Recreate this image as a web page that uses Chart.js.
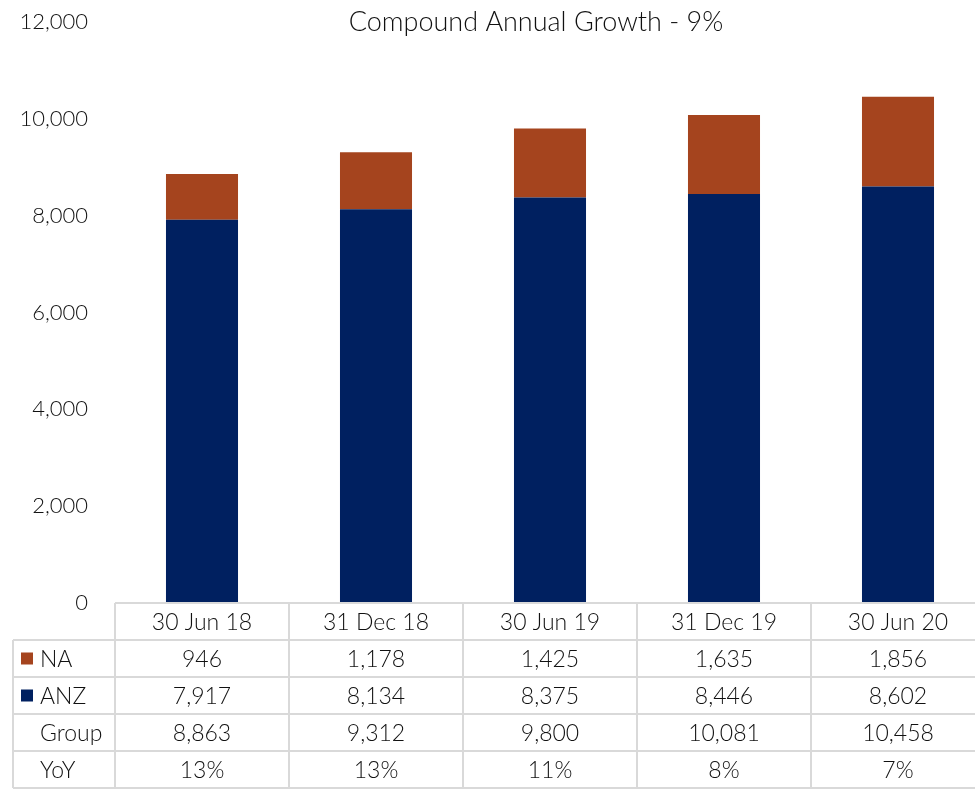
<!DOCTYPE html>
<html>
<head>
<meta charset="utf-8">
<script src="https://cdn.jsdelivr.net/npm/chart.js@4.4.1/dist/chart.umd.min.js"></script>
<style>
  html, body { margin: 0; padding: 0; overflow: hidden; background: #ffffff; }
  #wrap { width: 985px; height: 789px; }
</style>
</head>
<body>
<div id="wrap"><canvas id="c" width="985" height="789"></canvas></div>
<script>
// Reporting periods and segment values
const periods = ['30 Jun 18', '31 Dec 18', '30 Jun 19', '31 Dec 19', '30 Jun 20'];
const anzValues = [7917, 8134, 8375, 8446, 8602];
const naValues = [946, 1178, 1425, 1635, 1856];
const groupValues = [8863, 9312, 9800, 10081, 10458];
const yoyLabels = ['13%', '13%', '11%', '8%', '7%'];
const titleText = 'Compound Annual Growth - 9%';

const NAVY = '#002060';
const RUST = '#A5441E';
const GRID = '#d9d9d9';
const FONT = 'Lato, "Open Sans", sans-serif';
const fmt = v => v.toLocaleString('en-US');

// Title drawn above the bars
const titlePlugin = {
  id: 'topTitle',
  afterDraw(chart) {
    const ctx = chart.ctx;
    ctx.save();
    ctx.font = '300 27px ' + FONT;
    ctx.fillStyle = '#111';
    ctx.textAlign = 'center';
    ctx.textBaseline = 'middle';
    ctx.fillText(titleText, 536, 22);
    ctx.restore();
  }
};

// Data table under the plot, aligned with the category columns
const tablePlugin = {
  id: 'dataTable',
  afterDraw(chart) {
    const ctx = chart.ctx;
    const x = chart.scales.x;
    const n = periods.length;
    const colW = (x.right - x.left) / n;
    const top = chart.chartArea.bottom;
    const bottom = chart.height - 1;
    const rowH = (bottom - top) / 5;
    const labelLeft = 13;
    const rows = [
      { label: 'NA', swatch: RUST, cells: naValues.map(fmt) },
      { label: 'ANZ', swatch: NAVY, cells: anzValues.map(fmt) },
      { label: 'Group', swatch: null, cells: groupValues.map(fmt) },
      { label: 'YoY', swatch: null, cells: yoyLabels }
    ];

    ctx.save();
    ctx.strokeStyle = GRID;
    ctx.lineWidth = 2;
    ctx.beginPath();
    // header top line
    ctx.moveTo(x.left, top); ctx.lineTo(chart.width + 20, top);
    // row lines
    for (let r = 1; r <= 5; r++) {
      const y = Math.round(top + r * rowH);
      ctx.moveTo(labelLeft, y); ctx.lineTo(chart.width + 20, y);
    }
    // left edge of the label column
    ctx.moveTo(labelLeft, top + rowH); ctx.lineTo(labelLeft, bottom);
    // column separators
    for (let i = 0; i <= n; i++) {
      const cx = Math.round(x.left + i * colW);
      ctx.moveTo(cx, top); ctx.lineTo(cx, bottom);
    }
    ctx.stroke();

    ctx.fillStyle = '#111';
    ctx.font = '300 23px ' + FONT;
    ctx.textBaseline = 'middle';
    ctx.textAlign = 'center';
    periods.forEach((p, i) => {
      ctx.fillText(p, x.getPixelForValue(i), top + rowH / 2 + 1);
    });
    rows.forEach((row, r) => {
      const cy = top + (r + 1.5) * rowH + 1;
      ctx.textAlign = 'left';
      if (row.swatch) {
        ctx.fillStyle = row.swatch;
        ctx.fillRect(21, cy - 7, 12, 12);
      }
      ctx.fillStyle = '#111';
      ctx.fillText(row.label, 40, cy);
      ctx.textAlign = 'center';
      row.cells.forEach((c, i) => ctx.fillText(c, x.getPixelForValue(i), cy));
    });
    ctx.restore();
  }
};

new Chart(document.getElementById('c'), {
  type: 'bar',
  data: {
    labels: periods,
    datasets: [
      { label: 'ANZ', data: anzValues, backgroundColor: NAVY },
      { label: 'NA', data: naValues, backgroundColor: RUST }
    ]
  },
  options: {
    responsive: false,
    animation: false,
    layout: { padding: { top: 22, bottom: 186, left: 0, right: 0 } },
    datasets: { bar: { barPercentage: 1, categoryPercentage: 0.414 } },
    plugins: { legend: { display: false }, title: { display: false }, tooltip: { enabled: false } },
    scales: {
      x: { stacked: true, display: false },
      y: {
        stacked: true,
        min: 0, max: 12000,
        ticks: {
          stepSize: 2000,
          padding: 27,
          color: '#111',
          font: { family: FONT, size: 22, weight: '300' },
          callback: v => fmt(v)
        },
        grid: { display: false, drawTicks: false },
        border: { display: false },
        afterFit(scale) {
          scale.width = 115;
          scale.paddingTop = 0;
          scale.paddingBottom = 0;
        }
      }
    }
  },
  plugins: [titlePlugin, tablePlugin]
});
</script>
</body>
</html>
